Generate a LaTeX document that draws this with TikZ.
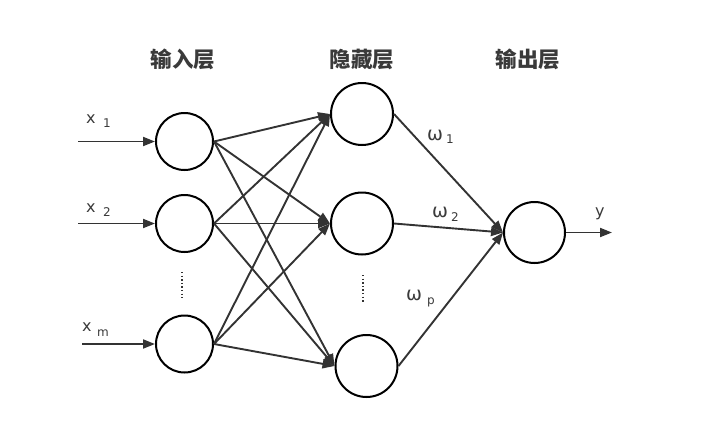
\documentclass[tikz,border=0pt]{standalone}
\usepackage{fontspec}
\setmainfont{DejaVu Sans}
\newfontfamily\cjk{Noto Sans CJK SC}
\usetikzlibrary{arrows.meta}
\definecolor{ink}{HTML}{333333}
\definecolor{txt}{HTML}{3A3A3A}
\tikzset{
  x=1pt,y=-1pt,
  neuron/.style={circle,draw=black,line width=2pt,fill=white,inner sep=0pt},
  inneuron/.style={neuron,minimum size=57pt},
  hidneuron/.style={neuron,minimum size=62pt},
  conn/.style={draw=ink,line width=1.9pt,-{Triangle[length=12pt,width=9pt]}},
  title/.style={font=\cjk\bfseries\fontsize{21.5}{22}\selectfont,text=txt},
  lab/.style={font=\fontsize{16}{16}\selectfont,text=txt,inner sep=0pt,anchor=base west},
  wlab/.style={font=\fontsize{19}{19}\selectfont,text=txt,inner sep=0pt,anchor=base west},
  sub/.style={font=\fontsize{12}{12}\selectfont,text=txt,inner sep=0pt,anchor=base west},
  vdots/.style={draw=ink,line width=1.5pt,dash pattern=on 1.4pt off 2.2pt}
}
\begin{document}
\begin{tikzpicture}
\useasboundingbox (0,0) rectangle (720,429);
% titles
\node[title] (t1) at (183,59) {输入层};
\node[title] (t2) at (362,59) {隐藏层};
\node[title] (t3) at (528,59) {输出层};
% neurons
\node[inneuron] (i1) at (184.5,141.5) {};
\node[inneuron] (i2) at (184.5,223.5) {};
\node[inneuron] (im) at (184.5,344) {};
\node[hidneuron] (h1) at (362,114) {};
\node[hidneuron] (h2) at (362,223.5) {};
\node[hidneuron] (hp) at (366.5,366) {};
\node[neuron,minimum size=61pt] (o) at (534.5,232.5) {};
% inputs
\coordinate (s1) at (78,141.5);
\coordinate (s2) at (78,223.5);
\coordinate (sm) at (82,344);
\draw[conn] (s1) -- (i1.west);
\draw[conn] (s2) -- (i2.west);
\draw[conn] (sm) -- (im.west);
% input labels
\node[lab] (lx1) at (86,123.5) {x};
\node[sub] (lx1s) at (103,127.5) {1};
\node[lab] (lx2) at (86,212.5) {x};
\node[sub] (lx2s) at (103,216.5) {2};
\node[lab] (lxm) at (82,331.5) {x};
\node[sub] (lxms) at (97,336.5) {m};
% input->hidden
\foreach \a in {i1,i2,im}{
  \foreach \b in {h1,h2,hp}{
    \draw[conn] (\a.east) -- (\b.west);
  }
}
% hidden->output
\draw[conn] (h1.east) -- (o.west);
\draw[conn] (h2.east) -- (o.west);
\draw[conn] (hp.east) -- (o.west);
% output
\coordinate (oy) at (612,232.5);
\draw[conn] (o.east) -- (oy);
\node[lab] (ly) at (595,216.5) {y};
% weights
\node[wlab] (w1) at (427,140.5) {ω};
\node[sub] (w1s) at (446,143.5) {1};
\node[wlab] (w2) at (432,217.5) {ω};
\node[sub] (w2s) at (451,221.5) {2};
\node[wlab] (wp) at (406,300.5) {ω};
\node[sub] (wps) at (427,304.5) {p};
% dots
\coordinate (d1a) at (182,272);
\coordinate (d1b) at (182,298);
\coordinate (d2a) at (363,275);
\coordinate (d2b) at (363,302);
\draw[vdots] (d1a) -- (d1b);
\draw[vdots] (d2a) -- (d2b);
\end{tikzpicture}
\end{document}
